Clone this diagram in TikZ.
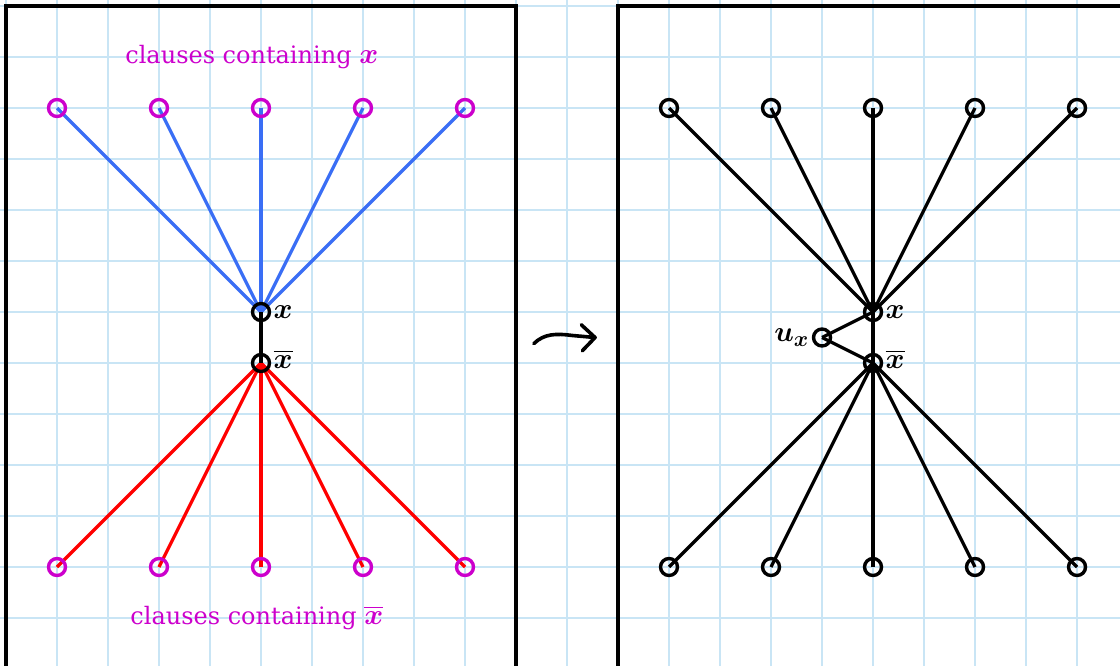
\documentclass[tikz,border=0pt]{standalone}
\usepackage{fontspec}
\usepackage{amsmath,bm}
\usetikzlibrary{calc}
\setmainfont{DejaVu Serif}
\definecolor{gridc}{HTML}{C9E5F5}
\definecolor{mag}{HTML}{CC00CC}
\definecolor{bl}{HTML}{3A6EF5}
\definecolor{rd}{HTML}{FF0000}
\pgfdeclarelayer{gridlayer}
\pgfdeclarelayer{edgelayer}
\pgfsetlayers{gridlayer,edgelayer,main}
\newcommand{\capmath}[1]{{\fontsize{14.5}{15}\selectfont$#1$}}
\begin{document}
\begin{tikzpicture}[x=25.5pt,y=-25.5pt,
  vtx/.style={circle,draw=#1,line width=1.7pt,minimum size=8.5pt,inner sep=0pt},
  vtx/.default=black,
  edg/.style={line width=1.65pt,draw=#1},
  lbl/.style={font=\fontsize{15}{16}\selectfont,inner sep=1pt},
  captext/.style={text=mag,font=\fontsize{12}{14}\selectfont},
  frame/.style={line width=1.9pt}]
\useasboundingbox (-0.1176,-0.1176) rectangle (21.843,12.941);
\clip (-0.1176,-0.1176) rectangle (21.843,12.941);
% grid
\begin{pgfonlayer}{gridlayer}
\foreach \k in {0,...,21} \draw[gridc,line width=0.7pt] (\k,-0.2) -- (\k,13);
\foreach \k in {0,...,12} \draw[gridc,line width=0.7pt] (-0.2,\k) -- (22,\k);
\end{pgfonlayer}
% frames
\draw[frame] (0,13.2) -- (0,0) -- (10,0) -- (10,13.2);
\draw[frame] (12,13.2) -- (12,0) -- (22.2,0);
% left graph
\foreach \i/\xx in {1/1,2/3,3/5,4/7,5/9}{
  \node[vtx=mag] (t\i) at (\xx,2) {};
  \node[vtx=mag] (b\i) at (\xx,11) {};
}
\node[vtx,label={[lbl]right:$\bm{x}$}] (x) at (5,6) {};
\node[vtx,label={[lbl,yshift=2pt]right:$\overline{\bm{x}}$}] (xb) at (5,7) {};
\begin{pgfonlayer}{edgelayer}
\foreach \i in {1,...,5}{
  \draw[edg=bl] (t\i.center) -- (x.center);
  \draw[edg=rd] (b\i.center) -- (xb.center);
}
\draw[edg=black] (x.center) -- (xb.center);
\end{pgfonlayer}
\node[captext] (c1) at (4.82,1) {clauses containing \capmath{\bm{x}}};
\node[captext] (c2) at (4.92,12.0) {clauses containing \capmath{\overline{\bm{x}}}};
% right graph
\foreach \i/\xx in {1/13,2/15,3/17,4/19,5/21}{
  \node[vtx] (rt\i) at (\xx,2) {};
  \node[vtx] (rb\i) at (\xx,11) {};
}
\node[vtx,label={[lbl]right:$\bm{x}$}] (rx) at (17,6) {};
\node[vtx,label={[lbl,yshift=2pt]right:$\overline{\bm{x}}$}] (rxb) at (17,7) {};
\node[vtx,label={[lbl]left:$\bm{u_x}$}] (ux) at (16,6.5) {};
\begin{pgfonlayer}{edgelayer}
\foreach \i in {1,...,5}{
  \draw[edg=black] (rt\i.center) -- (rx.center);
  \draw[edg=black] (rb\i.center) -- (rxb.center);
}
\draw[edg=black] (rx.center) -- (rxb.center);
\draw[edg=black] (ux.center) -- (rx.center);
\draw[edg=black] (ux.center) -- (rxb.center);
\end{pgfonlayer}
% squiggle arrow
\coordinate (s0) at (10.35,6.62);
\coordinate (s1) at (11.55,6.5);
\draw[line width=1.8pt,line cap=round,line join=round]
  (s0) .. controls (10.55,6.42) and (10.8,6.42) .. (11.1,6.46) -- (s1);
\draw[line width=1.8pt,line cap=round,line join=round]
  ($(s1)+(-0.27,-0.25)$) -- (s1) -- ($(s1)+(-0.25,0.26)$);
\end{tikzpicture}
\end{document}
